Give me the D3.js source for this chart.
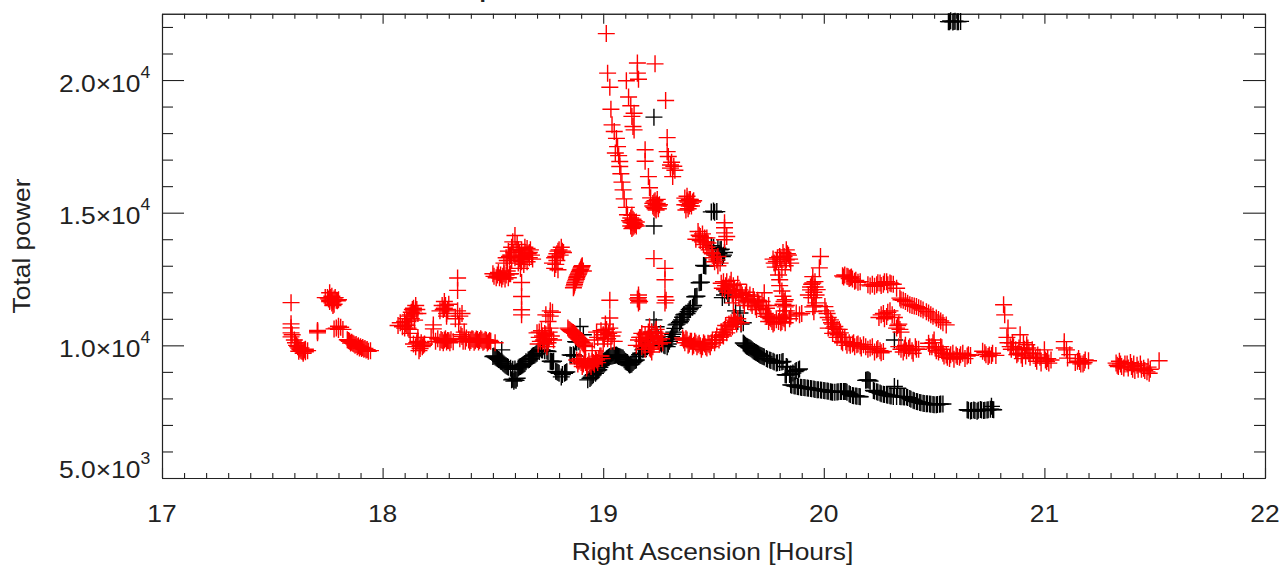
<!DOCTYPE html>
<html><head><meta charset="utf-8">
<script src="https://cdnjs.cloudflare.com/ajax/libs/d3/7.8.5/d3.min.js"></script>
<style>html,body{margin:0;padding:0;background:#fff}svg{display:block}text{font-family:"Liberation Sans",Arial,sans-serif;fill:#222}</style>
</head><body><svg id="c" width="1283" height="566"></svg>
<script>
const xLabel="Right Ascension [Hours]", yLabel="Total power", titleFragment="p";
const xMajor=[17,18,19,20,21,22];
const yMajor=[[5000,"5.0","3"],[10000,"1.0","4"],[15000,"1.5","4"],[20000,"2.0","4"]];
const blackPoints=[
[19.23,18600],[19.23,14500],[19.49,15030],[19.50,15060],[19.505,15020],[19.515,15040],
[20.565,22200],[20.575,22230],[20.585,22190],[20.595,22220],[20.605,22200],[20.62,22210],
[18.50,9580],[18.51,9560],[18.52,9500],[18.53,9450],[18.54,9830],[18.535,9400],[18.545,9330],[18.555,9260],[18.565,9200],[18.58,9140],[18.585,8700],[18.595,8650],[18.605,8680],[18.61,8760],[18.615,9150],[18.625,9200],[18.635,9260],[18.645,9320],[18.66,9450],[18.67,9500],[18.68,9600],[18.69,9640],[18.70,9700],[18.72,9830],[18.735,9800],[18.75,9770],[18.765,9390],[18.775,9400],[18.79,9000],[18.80,8950],[18.81,8810],[18.825,8950],[18.835,9000],[18.85,9640],[18.865,9650],[18.875,10140],[18.89,10140],[18.895,10710],[18.91,10400],[18.93,8700],[18.945,8800],[18.955,8890],[18.97,9000],[18.98,9080],[18.99,9250],[19.0,9390],[19.01,9450],[19.02,9520],[19.03,9580],[19.04,9600],[19.05,9620],[19.06,9640],[19.07,9580],[19.08,9550],[19.09,9520],[19.10,9400],[19.11,9350],[19.12,9260],[19.13,9300],[19.14,9400],[19.15,9450],[19.165,9650],[19.18,9830],[19.195,9950],[19.21,10080],[19.22,10500],[19.23,10960],[19.24,10700],[19.25,10250],[19.26,10090],[19.275,10000],[19.29,9950],[19.30,10150],[19.31,10330],[19.32,10500],[19.33,10770],[19.345,10850],[19.355,10960],[19.365,11150],[19.38,11200],[19.39,11340],[19.405,11440],[19.42,11840],[19.44,12370],[19.46,13000],[19.49,13760],[19.50,13700],[19.52,13660],[19.535,13620],[19.55,13500],[19.51,13400],[19.54,13350],[19.54,11800],[19.55,11900],[19.56,12050],[19.565,11950],[19.57,11800],
[19.60,11300],[19.62,11220],[19.61,10900],[19.625,10800],[19.635,10850],[19.635,10090],[19.645,10000],[19.655,9950],[19.665,9900],[19.675,9830],[19.685,9770],[19.695,9720],[19.705,9660],[19.715,9620],[19.725,9580],[19.74,9500],[19.755,9450],[19.77,9400],[19.785,9330],[19.80,9350],[19.815,9390],[19.83,9200],[19.825,8890],[19.845,8900],[19.86,8960],[19.875,9050],[19.89,9110],[19.85,8510],[19.865,8480],[19.88,8450],[19.895,8420],[19.91,8410],[19.925,8390],[19.94,8370],[19.955,8350],[19.97,8330],[19.985,8320],[20.0,8300],[20.015,8280],[20.03,8250],[20.04,8230],[20.06,8240],[20.075,8260],[20.09,8260],[20.10,8260],[20.115,8180],[20.13,8110],[20.145,8090],[20.16,8070],[20.19,8680],[20.20,8700],[20.21,8650],[20.225,8300],[20.24,8250],[20.255,8200],[20.27,8160],[20.285,8130],[20.30,8100],[20.315,8070],[20.32,8450],[20.335,8380],[20.345,8070],[20.36,8060],[20.375,8050],[20.39,8000],[20.405,7930],[20.42,7880],[20.435,7850],[20.45,7820],[20.465,7800],[20.48,7790],[20.495,7770],[20.51,7760],[20.525,7780],[20.54,7790],[20.32,10200],
[20.65,7570],[20.665,7530],[20.68,7560],[20.695,7520],[20.71,7580],[20.725,7540],[20.74,7560],[20.755,7590],[20.76,7700],[20.77,7570]
];
const blackExtra=[
[18.505,9600],[18.515,9530],[18.525,9470],[18.54,9380],[18.55,9300],[18.56,9230],[18.57,9170],[18.59,9100],[18.60,9110],[18.59,8720],[18.60,8700],[18.62,9180],[18.63,9230],[18.64,9290],[18.65,9380],[18.665,9470],[18.675,9560],[18.685,9620],[18.695,9670],[18.71,9770],[18.725,9820],[18.745,9790],[18.76,9400],[18.77,9380],[18.785,9020],[18.795,8980],[18.815,8900],[18.83,8980],[18.855,9620],[18.87,9600],[18.88,10120],[18.94,8750],[18.95,8850],[18.965,8950],[18.975,9050],[18.985,9170],[18.995,9320],[19.005,9420],[19.015,9490],[19.025,9550],[19.035,9590],[19.045,9610],[19.055,9630],[19.065,9610],[19.075,9570],[19.085,9530],[19.095,9460],[19.105,9370],[19.115,9300],[19.125,9280],[19.135,9350],[19.145,9430],[19.16,9580],[19.17,9700],[19.185,9880],[19.20,10000],[19.25,10150],[19.265,10050],[19.28,9980],[19.295,10050],[19.305,10240],[19.315,10420],[19.325,10640],[19.335,10800],[19.35,10900],[19.36,11060],[19.37,11170],[19.385,11270],[19.395,11390],[19.41,11500],[19.425,11850],[19.435,12360],[19.445,12380],[19.455,13010],[19.465,12990],[19.415,11830],
[19.64,10050],[19.65,9970],[19.66,9920],[19.67,9870],[19.68,9800],[19.69,9740],[19.70,9690],[19.71,9640],[19.72,9600],[19.73,9560],[19.745,9480],[19.76,9430],[19.775,9370],[19.79,9340],[19.81,9370],[19.835,9180],[19.83,8880],[19.85,8920],[19.87,9010],[19.885,9080],[19.855,8500],[19.87,8470],[19.885,8440],[19.90,8415],[19.915,8400],[19.93,8380],[19.945,8360],[19.96,8340],[19.975,8325],[19.99,8310],[20.005,8290],[20.02,8270],[20.035,8240],[20.05,8235],[20.065,8250],[20.08,8260],[20.095,8260],[20.105,8230],[20.12,8150],[20.135,8100],[20.15,8080],[20.165,8060],[20.195,8690],[20.205,8680],[20.23,8280],[20.245,8230],[20.26,8180],[20.275,8150],[20.29,8120],[20.305,8090],[20.33,8070],[20.35,8065],[20.365,8055],[20.38,8030],[20.395,7970],[20.41,7910],[20.425,7870],[20.44,7840],[20.455,7810],[20.47,7795],[20.485,7780],[20.50,7765],[20.515,7770],[20.53,7785],
[20.655,7550],[20.67,7540],[20.685,7540],[20.70,7550],[20.715,7560],[20.73,7550],[20.745,7570],[20.765,7580],
[19.5,13680],[19.53,13600],[19.545,13400],[19.525,13450],[20.57,22200],[20.59,22210],[20.61,22200]
];
const redPoints=[
[17.585,11610],[17.585,10810],[17.585,10660],[17.585,10470],[17.59,10400],[17.585,10320],[17.60,10200],[17.61,10000],[17.62,9900],[17.625,9850],[17.63,9800],[17.635,9780],[17.64,9760],[17.645,9820],[17.65,9760],[17.66,9800],
[17.705,10560],[17.705,10520],[17.705,10470],
[17.78,10620],[17.79,10650],[17.80,10720],[17.80,10600],[17.81,10680],[17.82,10600],
[17.74,11800],[17.75,11800],[17.76,11980],[17.76,11700],[17.77,11850],[17.77,11600],[17.78,11750],[17.79,11700],[17.80,11720],[17.78,11550],[17.76,11650],
[17.84,10210],[17.85,10150],[17.86,10120],[17.87,10050],[17.88,10030],[17.89,9980],[17.90,9950],[17.91,9920],[17.92,9880],[17.93,9840],[17.945,9800],
[18.07,10750],[18.08,10850],[18.09,10700],[18.10,10900],[18.10,10650],[18.11,11000],[18.11,10750],[18.12,11100],[18.12,10600],[18.125,10450],[18.13,11250],[18.14,11300],[18.14,11400],[18.15,11500],[18.155,11350],[18.16,11200],[18.13,11000],
[18.14,10050],[18.15,9950],[18.16,10150],[18.165,9800],[18.17,10000],[18.18,9950],[18.19,10050],[18.16,10300],
[18.23,10770],[18.23,10620],[18.22,10300],[18.24,10150],[18.25,10250],[18.26,10120],[18.27,10180],[18.28,10200],[18.29,10130],[18.30,10170],[18.31,10210],[18.32,10140],
[18.26,11300],[18.27,11500],[18.28,11650],[18.28,11400],[18.29,11200],[18.30,11550],[18.29,11100],
[18.34,12540],[18.34,12070],[18.34,11300],[18.35,11100],[18.36,11200],[18.33,11000],[18.345,10800],
[18.35,10250],[18.36,10330],[18.37,10500],[18.375,10150],[18.39,10200],[18.40,10180],[18.41,10230],[18.42,10170],[18.43,10220],[18.44,10180],[18.45,10200],[18.46,10150],[18.47,10190],[18.48,10140],[18.49,10150],[18.51,10100],
[18.50,12700],[18.52,12650],[18.53,12550],[18.54,12500],[18.55,12700],[18.56,12650],[18.57,12550],[18.58,12700],[18.525,12750],[18.545,12600],
[18.55,13100],[18.56,13300],[18.57,13550],[18.58,13400],[18.585,13700],[18.59,13900],[18.60,14140],[18.605,13600],[18.61,13800],[18.62,13500],[18.625,13300],[18.63,13600],[18.64,13400],[18.645,13700],[18.65,13500],[18.655,13150],[18.66,13450],[18.665,13300],[18.67,13600],[18.68,13250],[18.64,13050],[18.625,12900],
[18.63,12370],[18.63,11840],[18.63,11340],[18.63,11150],
[18.77,13100],[18.78,13300],[18.79,13450],[18.80,13600],[18.81,13700],[18.82,13500],[18.78,12900],[18.79,13200],
[18.865,12170],[18.87,12300],[18.875,12430],[18.88,12550],[18.885,12650],[18.89,12730],[18.895,12830],[18.90,12920],[18.905,13000],[18.91,12800],
[18.74,11150],[18.76,11300],[18.76,11100],[18.77,11250],[18.75,10900],
[18.70,10470],[18.71,10300],[18.72,10550],[18.73,10200],[18.74,10400],[18.75,10100],[18.76,10650],[18.765,10350],[18.705,10050],[18.725,10150],[18.745,9950],[18.775,10200],
[18.84,10650],[18.85,10570],[18.86,10500],[18.87,10450],[18.88,10350],[18.89,10250],[18.90,10150],[18.91,10050],[18.92,9950],
[19.03,11700],[19.03,11030],[19.01,10800],[19.0,10400],[19.01,10500],[19.02,10250],[19.03,10650],[19.04,10350],[19.05,10150],[19.0,10050],[18.97,10500],[18.96,10200],[18.95,9800],
[18.88,9450],[18.89,9400],[18.90,9350],[18.91,9300],[18.92,9350],[18.93,9250],[18.94,9300],[18.95,9400],[18.96,9300],[18.97,9450],[18.98,9500],[18.99,9600],
[19.16,11900],[19.16,11800],[19.16,11700],[19.16,11600],[19.155,11750],[19.165,11650],
[19.23,13270],[19.28,12900],[19.28,12470],[19.28,11830],[19.285,11700],[19.28,11600],
[19.15,10000],[19.16,10200],[19.17,10300],[19.18,10150],[19.19,10400],[19.20,10250],[19.21,10700],[19.22,10500],[19.23,10350],[19.24,10600],[19.25,10200],[19.26,10450],[19.27,10100],[19.21,9900],[19.23,10050],[19.22,9750],[19.19,9850],
[19.014,21750],[19.02,20260],[19.03,19730],[19.035,18900],[19.04,18310],[19.05,18060],[19.06,17800],[19.065,17490],[19.055,17250],[19.07,17150],[19.075,16930],[19.075,16740],[19.08,16470],[19.085,16150],[19.09,15860],[19.095,15520],[19.105,15200],[19.11,14920],
[19.12,14700],[19.125,14500],[19.13,14620],[19.135,14750],[19.135,14450],[19.14,14600],[19.145,14550],[19.13,14900],[19.15,14500],
[19.155,20640],[19.235,20610],[19.155,20260],[19.16,20030],[19.105,19970],[19.115,19360],[19.125,19030],[19.14,18750],[19.13,18630],[19.135,18250],[19.14,18120],[19.283,19230],
[19.19,17370],[19.19,16940],[19.205,16360],[19.21,15940],[19.215,15560],[19.225,15250],[19.23,15400],[19.235,15150],[19.24,15300],[19.245,15500],[19.25,15250],[19.255,15300],
[19.29,17830],[19.29,17300],[19.295,17120],[19.305,16800],[19.305,16680],[19.31,16900],[19.315,16360],[19.32,16750],[19.325,16600],
[19.37,15300],[19.375,15100],[19.38,15620],[19.385,15400],[19.39,15500],[19.395,15350],[19.40,15250],[19.41,15450],[19.37,15550],
[19.55,14620],[19.55,14430],[19.55,14240],[19.55,13980],[19.56,14100],[19.43,14290],[19.42,14000],[19.44,14100],[19.45,13900],[19.46,14050],[19.47,14050],[19.47,13700],[19.475,13860],[19.49,13500],[19.50,13300],[19.515,13220],[19.53,13100],
[19.36,10280],[19.37,10100],[19.38,10200],[19.39,10050],[19.40,10150],[19.41,10000],[19.42,10090],[19.43,10020],[19.44,9980],[19.45,9950],[19.46,10050],[19.47,9900],[19.48,10020],[19.49,10100],[19.51,10210],[19.53,10300],[19.54,10400],[19.55,10600],[19.56,10470],[19.57,10800],[19.575,10710],[19.59,10950],[19.60,10900],[19.61,11000],[19.625,10850],
[19.535,12340],[19.55,12100],[19.56,12400],[19.57,12200],[19.58,12450],[19.59,11600],[19.595,12100],[19.60,11850],[19.61,12300],[19.62,12090],[19.63,11900],[19.64,11500],[19.65,12000],[19.66,11750],[19.67,11600],[19.68,11840],[19.69,11450],[19.70,11700],[19.71,11500],[19.72,11650],[19.73,11980],[19.74,11400],[19.75,11500],
[19.74,11090],[19.75,10900],[19.76,11000],[19.77,10800],[19.785,10960],[19.80,11100],[19.81,10900],[19.82,11000],[19.83,11300],[19.85,11100],[19.875,11220],[19.89,11150],[19.90,11200],
[19.785,13160],[19.78,12950],[19.77,13250],[19.80,13350],[19.815,13500],[19.83,13600],[19.83,13220],[19.84,13400],[19.85,13100],[19.795,12650],[19.80,12470],[19.80,12250],[19.81,12050],[19.815,11850],[19.825,11720],[19.83,11500],[19.82,11300],
[19.985,13350],[19.98,12920],[19.95,12590],[19.94,12090],[19.96,12400],[19.97,12100],[19.955,11800],[19.965,11600],[19.955,11270],[19.93,11900],[19.945,12300],
[20.005,11460],[20.015,11200],[20.03,10960],[20.04,10800],[20.05,10710],[20.06,10600],[20.075,10470],[20.085,10300],[20.10,10140],[20.115,10100],[20.13,10050],[20.15,10020],[20.165,9980],[20.19,9950],[20.21,9900],[20.24,9830],[20.255,9800],[20.27,9770],[20.04,10450],[20.06,10300],[20.08,10150],[20.02,10650],
[20.085,12620],[20.095,12650],[20.11,12590],[20.12,12550],[20.13,12500],[20.145,12450],[20.165,12400],[20.20,12280],[20.22,12300],[20.24,12280],[20.255,12350],[20.27,12300],[20.285,12400],[20.30,12350],[20.315,12300],[20.33,12150],
[20.345,11780],[20.36,11700],[20.38,11590],[20.40,11500],[20.42,11460],[20.44,11380],[20.465,11270],[20.485,11150],[20.51,11030],[20.53,10920],[20.555,10770],
[20.25,11050],[20.27,11200],[20.285,11090],[20.30,11300],[20.32,11050],[20.33,10650],[20.34,10800],[20.35,10500],
[20.34,9950],[20.36,9750],[20.37,10000],[20.385,9890],[20.40,9800],[20.415,9950],[20.43,9850],[20.475,10080],[20.49,9950],[20.50,10200],[20.51,9800],[20.53,9950],[20.54,9700],[20.555,9640],[20.57,9500],[20.585,9700],[20.60,9640],[20.615,9550],[20.63,9700],[20.65,9600],[20.665,9620],
[20.72,9780],[20.735,9650],[20.75,9640],[20.765,9700],[20.78,9620],
[20.815,11530],[20.82,11150],[20.835,10650],[20.83,10300],[20.845,9950],[20.855,10100],[20.87,9830],[20.88,9700],[20.895,9640],[20.89,10400],[20.905,10100],[20.92,10020],[20.93,9700],[20.945,9830],[20.96,9500],[20.97,9640],[20.985,9330],[21.0,9830],[21.01,9390],[21.02,9330],[21.03,9450],
[21.09,10140],[21.09,9900],[21.10,9830],[21.105,9520],[21.115,9650],[21.15,9400],[21.16,9390],[21.175,9300],[21.185,9450],[21.20,9420],
[21.325,9330],[21.335,9200],[21.345,9300],[21.36,9150],[21.375,9300],[21.395,9200],[21.41,9050],[21.42,9250],[21.44,9100],[21.45,9140],[21.465,9000],[21.48,9100],[21.52,9420]
];
const redExtra=[
[17.605,10100],[17.615,9950],[17.62,9780],[17.63,9900],[17.64,9700],[17.65,9850],[17.755,11750],[17.765,11800],[17.77,11700],[17.775,11650],[17.785,11800],[17.795,11680],[17.775,11500],[17.845,10180],[17.855,10090],[17.865,10080],[17.875,10000],[17.885,9950],[17.895,9900],[17.905,9880],[17.915,9850],[17.925,9820],[17.935,9780],
[18.105,10800],[18.115,10900],[18.125,11150],[18.135,11350],[18.145,11200],[18.115,10650],[18.145,10950],[18.155,10100],[18.17,9880],[18.175,10100],[18.185,10000],[18.265,10220],[18.275,10100],[18.285,10250],[18.295,10180],[18.305,10100],[18.275,11350],[18.285,11500],[18.295,11350],
[18.355,10400],[18.365,10150],[18.38,10280],[18.395,10120],[18.405,10250],[18.415,10120],[18.425,10240],[18.435,10130],[18.445,10250],[18.455,10120],[18.465,10210],[18.475,10090],[18.485,10180],
[18.505,12600],[18.515,12550],[18.535,12650],[18.555,12500],[18.565,12800],[18.575,12700],[18.565,13200],[18.575,13350],[18.585,13200],[18.595,13500],[18.60,13300],[18.615,13600],[18.62,13250],[18.635,13350],[18.645,13250],[18.655,13650],[18.665,13500],[18.675,13400],[18.63,13150],[18.615,13100],
[18.785,13350],[18.795,13550],[18.805,13400],[18.815,13550],[18.785,13050],[18.795,12850],[18.868,12240],[18.872,12370],[18.878,12490],[18.882,12600],[18.888,12690],[18.892,12780],[18.898,12870],[18.902,12960],
[18.71,10500],[18.715,10150],[18.725,10350],[18.735,10450],[18.745,10200],[18.755,10500],[18.735,10050],[18.755,10250],[18.845,10600],[18.855,10530],[18.865,10480],[18.875,10400],[18.885,10300],[18.895,10200],[18.905,10100],[18.915,10000],
[18.885,9300],[18.895,9500],[18.905,9200],[18.915,9450],[18.925,9150],[18.935,9400],[18.945,9200],[18.955,9350],[18.965,9500],[18.975,9350],[18.985,9600],[18.995,9500],[18.975,10300],[18.99,10550],[19.005,10250],[19.015,10600],[19.025,10450],[19.035,10150],[19.045,10500],
[19.125,14650],[19.13,14400],[19.14,14500],[19.14,14700],[19.125,14800],[19.15,14650],[19.23,15200],[19.24,15100],[19.235,15450],[19.245,15350],[19.25,15150],[19.225,15350],[19.38,15300],[19.385,15150],[19.39,15250],[19.395,15500],[19.405,15400],[19.38,15450],
[19.435,14150],[19.44,13950],[19.45,14200],[19.455,13800],[19.465,13900],[19.48,13600],[19.495,13450],[19.505,13150],[19.52,13000],[19.52,13350],
[19.165,10300],[19.175,10450],[19.185,10000],[19.195,10150],[19.205,10500],[19.215,10300],[19.225,10150],[19.235,10500],[19.245,10350],[19.255,10050],[19.265,10250],[19.205,10050],[19.215,9850],[19.225,9950],[19.175,9950],
[19.365,10200],[19.375,10250],[19.385,10000],[19.395,10150],[19.405,9950],[19.415,10150],[19.425,9950],[19.435,10080],[19.445,9850],[19.455,10100],[19.465,9950],[19.475,10080],[19.485,9950],[19.495,10200],[19.505,10100],[19.515,10350],[19.525,10200],[19.535,10500],[19.545,10350],[19.555,10750],[19.565,10600],[19.58,10850],[19.585,10700],[19.595,11050],[19.605,10800],
[19.54,12150],[19.545,12400],[19.555,12250],[19.565,12000],[19.575,12300],[19.585,11950],[19.59,12250],[19.605,12050],[19.615,11800],[19.625,11950],[19.635,11700],[19.645,11900],[19.655,11650],[19.665,11900],[19.675,11500],[19.685,11700],[19.695,11350],[19.705,11600],[19.715,11350],[19.725,11500],[19.735,11200],[19.745,11150],[19.755,11050],[19.765,10900],[19.775,10850],[19.795,10900],[19.805,10850],[19.815,11050],[19.825,10850],[19.845,11000],
[19.775,13100],[19.79,13300],[19.805,13250],[19.82,13350],[19.835,13450],[19.845,13250],[19.825,13000],[19.81,12850],[19.82,11650],[19.825,11450],[19.83,11150],[19.815,11550],
[19.94,12200],[19.95,12350],[19.955,12000],[19.96,12200],[19.965,11900],[19.945,11800],[19.96,11500],[19.95,11450],
[20.01,11300],[20.02,11050],[20.035,10850],[20.045,10650],[20.055,10500],[20.065,10400],[20.07,10600],[20.085,10100],[20.095,10300],[20.105,10000],[20.12,10000],[20.135,10100],[20.14,9950],[20.155,10050],[20.17,9900],[20.18,10020],[20.20,9850],[20.22,9950],[20.23,9750],[20.245,9880],[20.26,9720],
[20.09,12580],[20.105,12600],[20.115,12520],[20.125,12580],[20.14,12420],[20.155,12380],[20.21,12240],[20.23,12230],[20.245,12360],[20.26,12260],[20.275,12400],[20.29,12280],[20.305,12320],[20.35,11720],[20.37,11650],[20.39,11530],[20.41,11480],[20.43,11420],[20.45,11330],[20.475,11220],[20.495,11100],[20.52,10970],[20.54,10850],
[20.26,11150],[20.275,11000],[20.29,11250],[20.31,11150],[20.335,10750],[20.345,10600],
[20.35,9850],[20.365,9900],[20.375,9800],[20.39,9950],[20.405,9700],[20.42,9850],[20.48,9950],[20.495,10100],[20.505,9900],[20.52,9750],[20.535,9850],[20.545,9600],[20.56,9550],[20.575,9650],[20.59,9480],[20.605,9580],[20.62,9650],[20.64,9500],[20.655,9650],
[20.73,9720],[20.745,9580],[20.76,9620],[20.835,10100],[20.85,9850],[20.86,9950],[20.875,9650],[20.885,9900],[20.90,9500],[20.91,9850],[20.915,9600],[20.925,9900],[20.935,9550],[20.95,9700],[20.965,9400],[20.98,9550],[21.005,9450],[21.015,9500],[21.14,9350],[21.155,9500],[21.165,9300],[21.18,9350],
[21.33,9250],[21.34,9400],[21.35,9200],[21.365,9300],[21.38,9150],[21.39,9350],[21.40,9100],[21.405,9300],[21.425,9100],[21.435,9300],[21.455,9050],[21.47,9180],[21.475,8950]
];
const svg=d3.select("#c");
const x=d3.scaleLinear().domain([17,22]).range([162,1265]);
const y=d3.scaleLinear().domain([5000,22500]).range([478,13.7]);
const xMinor=d3.range(17,22.0001,0.1).filter(v=>Math.abs(v-Math.round(v))>1e-6);
const yMinor=d3.range(6000,22001,1000).filter(v=>v%5000!==0);
const axisColor="#222";
function drawAxis(gen,tr){const g=svg.append("g").attr("transform",tr).call(gen);
  g.selectAll("path,line").attr("stroke",axisColor).attr("stroke-width",1.1);g.selectAll("text").remove();return g;}
drawAxis(d3.axisBottom(x).tickValues(xMinor).tickSize(-5).tickSizeOuter(0).tickFormat(""),"translate(0,478)");
drawAxis(d3.axisBottom(x).tickValues(xMajor).tickSize(-10).tickSizeOuter(0).tickFormat(""),"translate(0,478)");
drawAxis(d3.axisTop(x).tickValues(xMinor).tickSize(-5).tickSizeOuter(0).tickFormat(""),`translate(0,${y(22500)})`);
drawAxis(d3.axisTop(x).tickValues(xMajor).tickSize(-10).tickSizeOuter(0).tickFormat(""),`translate(0,${y(22500)})`);
drawAxis(d3.axisLeft(y).tickValues(yMinor).tickSize(-11).tickSizeOuter(0).tickFormat(""),"translate(162,0)");
drawAxis(d3.axisLeft(y).tickValues(yMajor.map(d=>d[0])).tickSize(-22).tickSizeOuter(0).tickFormat(""),"translate(162,0)");
drawAxis(d3.axisRight(y).tickValues(yMinor).tickSize(-11).tickSizeOuter(0).tickFormat(""),"translate(1265,0)");
drawAxis(d3.axisRight(y).tickValues(yMajor.map(d=>d[0])).tickSize(-22).tickSizeOuter(0).tickFormat(""),"translate(1265,0)");
const FS=24, SX=1.1;
svg.append("g").selectAll("text").data(xMajor).join("text")
  .attr("transform",d=>`translate(${x(d)},522) scale(${SX},1)`)
  .attr("text-anchor","middle").attr("font-size",FS).text(d=>d);
yMajor.forEach(([v,m,e])=>{
  const base=v===5000?y(v):y(v)+11.5;
  const t=svg.append("text").attr("transform",`translate(59,${base}) scale(${SX},1)`).attr("font-size",FS);
  t.append("tspan").text(m+"\u00d710");
  t.append("tspan").attr("font-size",16).attr("dy",-14).text(e);
});
svg.append("text").attr("transform",`translate(712.5,560) scale(${SX},1)`).attr("text-anchor","middle").attr("font-size",FS).text(xLabel);
svg.append("text").attr("transform",`translate(30,246) rotate(-90) scale(${SX},1)`).attr("text-anchor","middle").attr("font-size",FS).text(yLabel);
svg.append("text").attr("x",486.5).attr("y",-3).attr("text-anchor","middle").attr("font-size",23).attr("font-weight","bold").text(titleFragment);
const plus=d3.line()([[-8.5,0],[8.5,0]])+d3.line()([[0,-8.5],[0,8.5]]);
function drawPoints(data,color){svg.append("g").selectAll("path").data(data).join("path")
  .attr("transform",d=>`translate(${x(d[0])},${y(d[1])})`).attr("d",plus)
  .attr("fill","none").attr("stroke",color).attr("stroke-width",1.4);}
drawPoints(blackPoints.concat(blackExtra),"#000");
drawPoints(redPoints.concat(redExtra),"#f00");
</script></body></html>
